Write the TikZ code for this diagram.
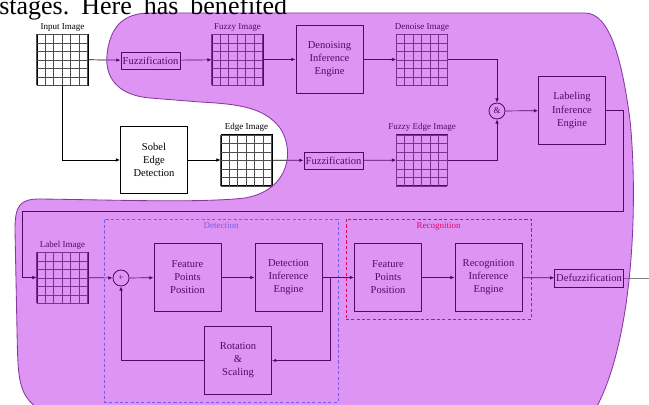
\documentclass[tikz,border=0pt]{standalone}
\usepackage{fontspec}
\setmainfont{Liberation Serif}
\usetikzlibrary{arrows.meta}
\definecolor{blobfill}{RGB}{180,18,229}
\definecolor{blobline}{RGB}{135,55,160}
\definecolor{detblue}{RGB}{70,150,235}
\newcommand{\boxfont}{\fontsize{7.5}{9.3}\selectfont}
\newcommand{\tagfont}{\fontsize{6.4}{7}\selectfont}
% image as a 6x6 grid: name, x, y, caption
\newcommand{\imggrid}[4]{%
  \node[imgbox] (#1) at (#2,#3) {};
  \draw[gridline,shift={(#1.south west)}] (0,0) grid[step=0.2125cm] (1.275cm,1.275cm);
  \node[imgtag,above] (#1cap) at (#1.north) {#4};}

\begin{document}
\begin{tikzpicture}[x=0.025cm,y=-0.025cm,
  blk/.style={draw,line width=0.7pt,minimum width=1.675cm,minimum height=1.675cm,align=center,font=\boxfont,inner sep=1pt},
  flatbox/.style={draw,line width=0.7pt,minimum width=1.475cm,minimum height=0.425cm,inner sep=1pt,font=\boxfont},
  imgbox/.style={draw,line width=0.55pt,minimum size=1.275cm,inner sep=0pt},
  gridline/.style={line width=0.3pt,black!70},
  imgtag/.style={font=\tagfont,inner sep=1.5pt},
  junc/.style={circle,draw,line width=0.6pt,minimum size=0.4cm,inner sep=0pt,font=\tagfont},
  conn/.style={line width=0.5pt},
  arr/.style={conn,-{Latex[length=3pt,width=2.6pt]}},
  detframe/.style={draw=detblue,dashed,dash pattern=on 2.2pt off 1.6pt,line width=0.6pt,minimum width=5.85cm,minimum height=4.575cm},
  recframe/.style={draw=red,dashed,dash pattern=on 2.2pt off 1.6pt,line width=0.6pt,minimum width=4.625cm,minimum height=2.5cm}]
\useasboundingbox (0,0) rectangle (649,405);

% upper branch
\imggrid{inimg}{62.5}{59.5}{Input Image}
\node[flatbox] (fuzz1) at (150.5,60.5) {Fuzzification};
\imggrid{fuzimg}{237.5}{59.5}{Fuzzy Image}
\node[blk] (denoise) at (329.5,59.5) {Denoising\\Inference\\Engine};
\imggrid{denimg}{422}{59.5}{Denoise Image}

% edge branch
\node[blk] (sobel) at (154,160) {Sobel\\Edge\\Detection};
\imggrid{edgeimg}{246.5}{160}{Edge Image}
\node[flatbox] (fuzz2) at (333.5,160.5) {Fuzzification};
\imggrid{fedgeimg}{422}{160}{Fuzzy Edge Image}

\node[junc] (and) at (497,111) {\&};
\node[blk] (label) at (572,110.5) {Labeling\\Inference\\Engine};

% lower part
\imggrid{lblimg}{62.5}{277.5}{Label Image}
\node[detframe] (detbox) at (221,310.5) {};
\node[font=\tagfont,text=detblue,anchor=north,inner sep=2.5pt] (dettag) at (detbox.north) {Detection};
\node[recframe] (recbox) at (438.5,269) {};
\node[font=\tagfont,text=red,anchor=north,inner sep=2.5pt] (rectag) at (recbox.north) {Recognition};

\node[junc] (plus) at (121,278) {+};
\node[blk] (feat1) at (187.5,277.5) {Feature\\Points\\Position};
\node[blk] (detect) at (288.5,277.5) {Detection\\Inference\\Engine};
\node[blk] (rot) at (238,360.5) {Rotation\\\&\\Scaling};
\node[blk] (feat2) at (388,277.5) {Feature\\Points\\Position};
\node[blk] (recog) at (488.5,277.5) {Recognition\\Inference\\Engine};
\node[flatbox,minimum width=1.7cm,minimum height=0.45cm] (defuz) at (589,278) {Defuzzification};

\coordinate (turnR) at (623,211);
\coordinate (turnL) at (22,211);
\coordinate (split) at (330,277.5);
\coordinate (out) at (649,278);

\draw[arr] (inimg) -- (fuzz1);
\draw[arr] (fuzz1) -- (fuzimg);
\draw[arr] (fuzimg) -- (denoise);
\draw[arr] (denoise) -- (denimg);
\draw[arr] (inimg.south) |- (sobel.west);
\draw[arr] (sobel) -- (edgeimg);
\draw[arr] (edgeimg) -- (fuzz2);
\draw[arr] (fuzz2) -- (fedgeimg);
\draw[arr] (denimg.east) -| (and.north);
\draw[arr] (fedgeimg.east) -| (and.south);
\draw[arr] (and) -- (label);
\draw[arr] (label.east) -| (turnR) -- (turnL) |- (lblimg.west);
\draw[arr] (lblimg) -- (plus);
\draw[arr] (plus) -- (feat1);
\draw[arr] (feat1) -- (detect);
\draw[conn] (detect.east) -- (split);
\draw[arr] (split) -- (feat2);
\draw[arr] (split) |- (rot.east);
\draw[arr] (rot.west) -| (plus.south);
\draw[arr] (feat2) -- (recog);
\draw[arr] (recog) -- (defuz);
\draw[conn,gray] (defuz.east) -- (out);

% purple region laid over the diagram
\path[fill=blobfill,fill opacity=0.45,draw=blobline,line width=0.6pt]
  (150,13) -- (585,13) .. controls (610,13) and (622,60) .. (630,120)
  .. controls (638,200) and (634,340) .. (595,410) -- (40,410)
  .. controls (18,395) and (18,380) .. (17,330) -- (15,230)
  .. controls (15,205) and (20,199) .. (40,199)
  .. controls (120,200) and (200,203) .. (245,198)
  .. controls (290,190) and (295,150) .. (280,128)
  .. controls (265,108) and (240,104) .. (200,102) -- (150,98)
  .. controls (115,95) and (105,75) .. (107,55)
  .. controls (110,25) and (125,13) .. (150,13) -- cycle;

\node[anchor=base west,inner sep=0pt,font=\fontsize{18.5}{20}\selectfont] (head) at (-1,15)
  {stages.\hspace{8.5pt}Here\hspace{8.5pt}has\hspace{8.5pt}benefited};
\end{tikzpicture}
\end{document}
